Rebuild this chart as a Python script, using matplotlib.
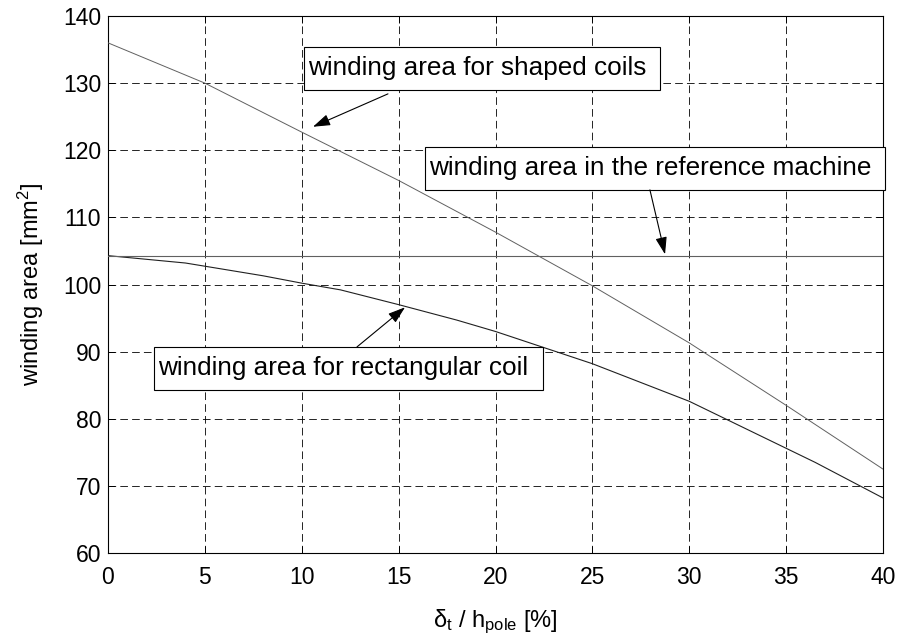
import matplotlib
matplotlib.use("Agg")
import matplotlib.pyplot as plt
from matplotlib.patches import Rectangle

plt.rcParams['font.family'] = ['Liberation Sans', 'DejaVu Sans']
plt.rcParams['mathtext.fontset'] = 'custom'
plt.rcParams['mathtext.rm'] = 'Liberation Sans'
plt.rcParams['mathtext.it'] = 'Liberation Sans:italic'
plt.rcParams['lines.scale_dashes'] = False

# values
x_shaped = [0, 5, 10, 15, 20, 25, 30, 35, 40]
y_shaped = [136.0, 130.0, 122.7, 115.5, 107.8, 99.8, 91.3, 82.0, 72.5]

x_rect = [0, 4, 8, 10, 12, 15, 18, 20, 22.5, 25, 30, 35, 36.5, 40]
y_rect = [104.3, 103.2, 101.3, 100.2, 99.2, 97.0, 94.7, 93.0, 90.6, 88.2, 82.6, 75.6, 73.5, 68.2]

x_ref = [0, 40]
y_ref = [104.3, 104.3]

x_ticks = [0, 5, 10, 15, 20, 25, 30, 35, 40]
y_ticks = [60, 70, 80, 90, 100, 110, 120, 130, 140]

W, H = 903, 635
fig = plt.figure(figsize=(W / 100, H / 100), dpi=100)
ax = fig.add_axes([108 / W, 1 - 553 / H, 775 / W, 537 / H])

ax.plot(x_shaped, y_shaped, color='#606060', lw=0.7, zorder=3)
ax.plot(x_rect, y_rect, color='#202020', lw=0.8, zorder=3)
ax.plot(x_ref, y_ref, color='#606060', lw=0.8, zorder=3)

ax.set_xlim(0, 40)
ax.set_ylim(60, 140)
ax.set_xticks(x_ticks)
ax.set_yticks(y_ticks)
ax.grid(True, color='k', linestyle=(0, (5.5, 3)), linewidth=0.6)
ax.tick_params(direction='in', top=True, right=True, length=5, width=0.7, labelsize=16.5)
ax.tick_params(axis='x', pad=9)
ax.tick_params(axis='y', pad=5)
for s in ax.spines.values():
    s.set_linewidth(0.8)

ax.set_xlabel('δ$_\\mathrm{t}$ / h$_\\mathrm{pole}$ [%]', fontsize=17, labelpad=14)
ax.set_ylabel('winding area [mm$^2$]', fontsize=17, labelpad=12)

# annotations: text, text anchor, arrow tail, arrow tip
notes = [
    ('winding area for shaped coils', (10.3, 132.2), (14.45, 128.4), (10.58, 123.5)),
    ('winding area in the reference machine', (16.55, 117.3), (27.97, 114.1), (28.75, 104.5)),
    ('winding area for rectangular coil', (2.6, 87.5), (12.85, 90.7), (15.33, 96.6)),
]

texts = []
for label, pos, tail, tip in notes:
    t = ax.text(pos[0], pos[1], label, fontsize=18.8, ha='left', va='center', zorder=6)
    texts.append(t)
    ax.annotate('', xy=tip, xytext=tail,
                arrowprops=dict(arrowstyle='-|>,head_length=0.75,head_width=0.25',
                                color='k', lw=0.8, shrinkA=0, shrinkB=0,
                                mutation_scale=14),
                zorder=6)

# MATLAB-style boxes around the texts
fig.canvas.draw()
renderer = fig.canvas.get_renderer()
inv = ax.transData.inverted()
for t in texts:
    bb = t.get_window_extent(renderer)
    cy = (bb.y0 + bb.y1) / 2
    (x0, y0) = inv.transform((bb.x0 - 4, cy - 21.5))
    (x1, y1) = inv.transform((bb.x1 + 14, cy + 21.5))
    ax.add_patch(Rectangle((x0, y0), x1 - x0, y1 - y0, facecolor='white',
                           edgecolor='k', lw=0.8, zorder=5, clip_on=False))

fig.savefig('out.png', dpi=100)
